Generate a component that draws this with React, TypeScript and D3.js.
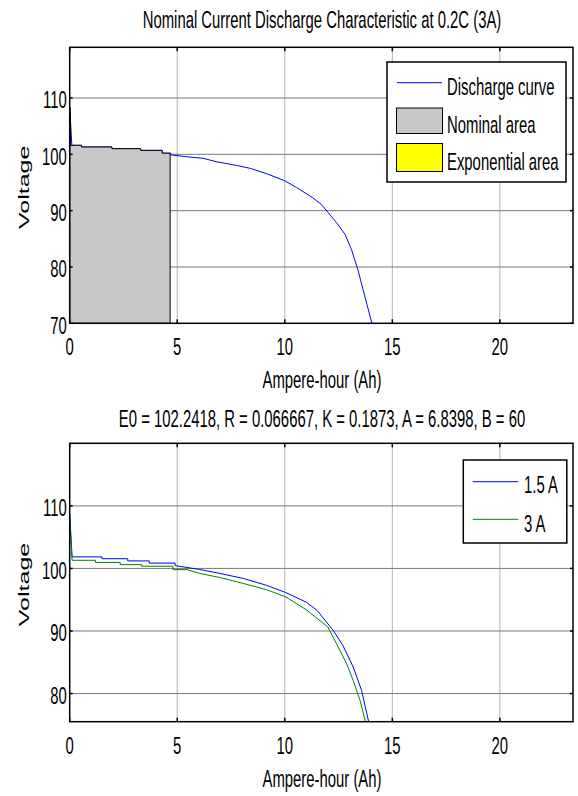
import React from 'react';
import * as d3 from 'd3';

// top panel: 3 A discharge (0.2C)
const dischargeAh = [0, 0.1, 0.55, 0.55, 1.96, 1.96, 3.3, 3.3, 4.3, 4.3, 4.7, 4.7, 5.6, 6.2, 6.8, 7.8, 8.4, 9.2, 10.0, 10.55, 11.3, 11.7, 12.4, 12.8, 13.1, 13.4, 13.7, 14.05];
const dischargeV = [108.4, 101.6, 101.6, 101.3, 101.3, 101.0, 101.0, 100.7, 100.7, 100.2, 100.2, 99.9, 99.5, 99.3, 98.7, 98.0, 97.5, 96.5, 95.3, 94.1, 92.3, 91.1, 87.9, 85.8, 83.1, 79.5, 75.1, 70];
const nominalAh = [0, 0.55, 0.55, 1.96, 1.96, 3.3, 3.3, 4.3, 4.3, 4.67];
const nominalV = [101.6, 101.6, 101.3, 101.3, 101.0, 101.0, 100.7, 100.7, 100.2, 100.2];
const expAh = [0, 0.04];
const expV = [108.4, 105.6];

// bottom panel: 1.5 A vs 3 A
const amp15Ah = [0, 0.11, 1.5, 1.5, 2.7, 2.7, 3.7, 3.7, 4.9, 4.9, 6.05, 6.98, 8.07, 9.15, 10.04, 11.0, 11.5, 12.25, 12.7, 13.18, 13.57, 13.9];
const amp15V = [108.8, 101.85, 101.85, 101.55, 101.55, 101.2, 101.2, 100.85, 100.85, 100.45, 99.83, 99.2, 98.4, 97.3, 96.15, 94.6, 93.3, 90.1, 87.7, 84.25, 80.5, 75.5];
const amp3Ah = [0, 0.11, 1.2, 1.2, 2.35, 2.35, 3.35, 3.35, 4.8, 4.8, 5.45, 6.05, 6.98, 8.07, 9.15, 10.04, 11.0, 12.0, 12.4, 12.87, 13.18, 13.5, 13.75];
const amp3V = [108.0, 101.3, 101.3, 100.95, 100.95, 100.6, 100.6, 100.35, 100.35, 99.8, 99.8, 99.2, 98.55, 97.6, 96.6, 95.45, 93.4, 90.65, 88.0, 84.8, 82.1, 78.9, 75.5];

const xTicks = [0, 5, 10, 15, 20];
const yTicksTop = [70, 80, 90, 100, 110];
const yTicksBottom = [80, 90, 100, 110];

const title1 = 'Nominal Current Discharge Characteristic at 0.2C (3A)';
const title2 = 'E0 = 102.2418, R = 0.066667, K = 0.1873, A = 6.8398, B = 60';
const xLabel = 'Ampere-hour (Ah)';
const yLabel = 'Voltage';

const FONT = 'Liberation Sans, Arial, sans-serif';
const SX = 0.62; // glyphs look squeezed horizontally

const Txt = ({ x, y, anchor = 'middle', size = 24, children }: any) => (
  <g transform={`translate(${x},${y}) scale(${SX},1)`}>
    <text textAnchor={anchor} fontSize={size} fontFamily={FONT} fill="#000">{children}</text>
  </g>
);

const pts = (xs: number[], ys: number[]) => xs.map((d, i) => [d, ys[i]] as [number, number]);

function Panel({ id, top, bottom, yDomain, yTicks, title, titleY, children }: any) {
  const left = 69.7, right = 573;
  const x = d3.scaleLinear().domain([0, 23.4]).range([left, right]);
  const y = d3.scaleLinear().domain(yDomain).range([bottom, top]);
  return (
    <g>
      <Txt x={322} y={titleY}>{title}</Txt>
      {xTicks.filter(t => t > 0).map(t => (
        <line key={'gx' + t} x1={x(t)} x2={x(t)} y1={top} y2={bottom} stroke="#b4b4b4" strokeWidth={1} />
      ))}
      {yTicks.filter((t: number) => t > yDomain[0]).map((t: number) => (
        <line key={'gy' + t} x1={left} x2={right} y1={y(t)} y2={y(t)} stroke="#7a7a7a" strokeWidth={1} />
      ))}
      <clipPath id={id}><rect x={left} y={top} width={right - left} height={bottom - top} /></clipPath>
      <g clipPath={`url(#${id})`}>{children(x, y)}</g>
      {xTicks.map(t => (
        <g key={'tx' + t} stroke="#000" strokeWidth={1.5}>
          <line x1={x(t)} x2={x(t)} y1={top} y2={top + 4} />
          <line x1={x(t)} x2={x(t)} y1={bottom} y2={bottom - 4} />
        </g>
      ))}
      {yTicks.map((t: number) => (
        <g key={'ty' + t} stroke="#000" strokeWidth={1.5}>
          <line x1={left} x2={left + 3} y1={y(t)} y2={y(t)} />
          <line x1={right} x2={right - 3} y1={y(t)} y2={y(t)} />
        </g>
      ))}
      <rect x={left} y={top} width={right - left} height={bottom - top} fill="none" stroke="#000" strokeWidth={1.5} />
      {xTicks.map(t => (
        <Txt key={'lx' + t} x={x(t)} y={bottom + 32}>{t}</Txt>
      ))}
      {yTicks.map((t: number) => (
        <Txt key={'ly' + t} x={left - 3} y={y(t) + 10.5} anchor="end">{t}</Txt>
      ))}
      <Txt x={322} y={bottom + 65}>{xLabel}</Txt>
      <g transform={`translate(29.3,${(top + bottom) / 2 + 2}) scale(${SX},1) rotate(-90)`}>
        <text textAnchor="middle" fontSize={25} fontFamily={FONT}>{yLabel}</text>
      </g>
    </g>
  );
}

export default function App() {
  const line = (x: any, y: any) => d3.line<[number, number]>().x(d => x(d[0])).y(d => y(d[1]));
  const area = (x: any, y: any, base: number) =>
    d3.area<[number, number]>().x(d => x(d[0])).y0(y(base)).y1(d => y(d[1]));

  return (
    <svg width={578} height={796} style={{ position: 'absolute', left: 0, top: 0, background: '#fff' }}>
      <rect width={578} height={796} fill="#fff" />
      <Panel id="c1" top={47.3} bottom={323.3} yDomain={[70, 119]} yTicks={yTicksTop} title={title1} titleY={28}>
        {(x: any, y: any) => (
          <g>
            <path d={line(x, y)(pts(dischargeAh, dischargeV)) || ''} fill="none" stroke="#0000ff" strokeWidth={1} />
            <path d={area(x, y, 70)(pts(expAh, expV)) || ''} fill="#ffff00" stroke="#000" strokeWidth={1} />
            <path d={area(x, y, 70)(pts(nominalAh, nominalV)) || ''} fill="#c8c8c8" stroke="#000" strokeWidth={1} />
          </g>
        )}
      </Panel>
      <Panel id="c2" top={443.3} bottom={721.7} yDomain={[75.5, 120]} yTicks={yTicksBottom} title={title2} titleY={427}>
        {(x: any, y: any) => (
          <g>
            <path d={line(x, y)(pts(amp15Ah, amp15V)) || ''} fill="none" stroke="#0000ff" strokeWidth={1} />
            <path d={line(x, y)(pts(amp3Ah, amp3V)) || ''} fill="none" stroke="#008000" strokeWidth={1} />
          </g>
        )}
      </Panel>

      {/* legend, top panel */}
      <rect x={387} y={62} width={179} height={120} fill="#fff" stroke="#000" strokeWidth={1.5} />
      <line x1={397} x2={442} y1={82.7} y2={82.7} stroke="#0000ff" strokeWidth={1} />
      <Txt x={447} y={95} anchor="start">Discharge curve</Txt>
      <rect x={396.5} y={108} width={46} height={25.5} fill="#c8c8c8" stroke="#000" strokeWidth={1} />
      <Txt x={447} y={133} anchor="start">Nominal area</Txt>
      <rect x={396.5} y={143.5} width={46} height={28} fill="#ffff00" stroke="#000" strokeWidth={1} />
      <Txt x={447} y={170} anchor="start">Exponential area</Txt>

      {/* legend, bottom panel */}
      <rect x={463.3} y={460} width={103.5} height={83} fill="#fff" stroke="#000" strokeWidth={1.5} />
      <line x1={472.7} x2={518.3} y1={481.7} y2={481.7} stroke="#0000ff" strokeWidth={1} />
      <Txt x={524} y={493.3} anchor="start">1.5 A</Txt>
      <line x1={472.7} x2={518.3} y1={519.3} y2={519.3} stroke="#008000" strokeWidth={1} />
      <Txt x={524} y={531.7} anchor="start">3 A</Txt>
    </svg>
  );
}
